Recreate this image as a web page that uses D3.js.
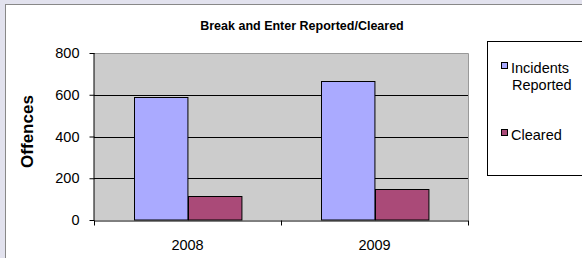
<!DOCTYPE html>
<html>
<head>
<meta charset="utf-8">
<script src="https://cdn.jsdelivr.net/npm/d3@7"></script>
<style>
  html, body { margin: 0; padding: 0; background: #e2e2ee; }
  svg { display: block; font-family: Arial, "Liberation Sans", sans-serif; }
</style>
</head>
<body>
<svg id="chart"></svg>
<script>
var years = ['2008', '2009'],
    seriesNames = ['Incidents Reported', 'Cleared'],
    reported = [590, 666],
    cleared = [115, 148],
    yTicks = [0, 200, 400, 600, 800],
    colors = ['#aaaaff', '#aa4a78'];

var width = 582,
    height = 258;

var svg = d3.select('svg#chart')
    .attr('width', width)
    .attr('height', height);

// chart area (white) with grey border on left/top
svg.append('rect')
    .attr('x', 5.5)
    .attr('y', 4.5)
    .attr('width', width)
    .attr('height', height)
    .attr('fill', 'white')
    .attr('stroke', '#888888');

var x = d3.scaleBand().domain(years).range([94, 468]);
var x1 = d3.scaleBand().domain(seriesNames).range([0, x.bandwidth()]).paddingOuter(0.75);
var y = d3.scaleLinear().domain([0, 800]).range([220, 53]);

// plot background
svg.append('rect')
    .attr('x', x.range()[0])
    .attr('y', y(800))
    .attr('width', x.range()[1] - x.range()[0])
    .attr('height', y(0) - y(800))
    .attr('fill', '#cccccc');

// plot frame top/right in grey
svg.append('path')
    .attr('d', 'M' + x.range()[0] + ',' + (y(800) + 0.5) + 'H' + (x.range()[1] + 0.5) + 'V' + y(0))
    .attr('fill', 'none')
    .attr('stroke', '#999999');

// gridlines
svg.append('g')
    .selectAll('line')
    .data(yTicks.filter(function(d) { return d > 0 && d < 800; }))
    .join('line')
    .attr('x1', x.range()[0])
    .attr('x2', x.range()[1])
    .attr('y1', function(d) { return Math.round(y(d)) + 0.5; })
    .attr('y2', function(d) { return Math.round(y(d)) + 0.5; })
    .attr('stroke', '#000000');

// bars
var rows = years.map(function(yr, i) {
    return { year: yr, values: [reported[i], cleared[i]] };
});

svg.append('g')
    .selectAll('g')
    .data(rows)
    .join('g')
    .attr('transform', function(d) { return 'translate(' + x(d.year) + ',0)'; })
    .selectAll('rect')
    .data(function(d) { return d.values.map(function(v, k) { return { name: seriesNames[k], value: v, k: k }; }); })
    .join('rect')
    .attr('x', function(d) { return Math.round(x1(d.name)) + 0.5; })
    .attr('y', function(d) { return Math.round(y(d.value)) + 0.5; })
    .attr('width', x1.bandwidth())
    .attr('height', function(d) { return y(0) - Math.round(y(d.value)) - 0.5; })
    .attr('fill', function(d) { return colors[d.k]; })
    .attr('stroke', '#000000');

// y axis
var yAxis = svg.append('g')
    .attr('transform', 'translate(' + (x.range()[0] + 0.5) + ',0)')
    .call(d3.axisLeft(y).tickValues(yTicks).tickSize(5).tickPadding(10).tickFormat(d3.format('d')));
yAxis.select('.domain').attr('d', 'M-0.5,' + y(800) + 'V' + (y(0) + 0.5)).attr('stroke', '#000');
yAxis.selectAll('.tick line').attr('stroke', '#000');
yAxis.selectAll('text').attr('font-size', '14.5px').attr('fill', '#000').attr('font-family', 'Arial, "Liberation Sans", sans-serif');

// x axis
var xAxis = svg.append('g')
    .attr('transform', 'translate(0,' + (y(0) + 0.5) + ')')
    .call(d3.axisBottom(x).tickSize(0).tickPadding(19));
xAxis.select('.domain').attr('stroke', '#000');
xAxis.selectAll('text').attr('font-size', '14.5px').attr('fill', '#000').attr('font-family', 'Arial, "Liberation Sans", sans-serif');
xAxis.selectAll('.sep')
    .data(years.map(function(d) { return x(d); }).concat([x.range()[1]]))
    .join('line')
    .attr('class', 'sep')
    .attr('x1', function(d) { return d + 0.5; })
    .attr('x2', function(d) { return d + 0.5; })
    .attr('y1', 0)
    .attr('y2', 5)
    .attr('stroke', '#000');

// title
svg.append('text')
    .attr('x', 302)
    .attr('y', 30)
    .attr('text-anchor', 'middle')
    .attr('font-size', '12.5px')
    .attr('font-weight', 'bold')
    .text('Break and Enter Reported/Cleared');

// y label
svg.append('text')
    .attr('transform', 'translate(33,' + ((y(0) + y(800)) / 2 - 5) + ') rotate(-90)')
    .attr('text-anchor', 'middle')
    .attr('font-size', '17px')
    .attr('font-weight', 'bold')
    .text('Offences');

// legend
var legend = svg.append('g');
legend.append('rect')
    .attr('x', 487.5)
    .attr('y', 41.5)
    .attr('width', 120)
    .attr('height', 134)
    .attr('fill', 'white')
    .attr('stroke', '#000');

var legendRows = [
    { lines: ['Incidents', 'Reported'], y: 73 },
    { lines: ['Cleared'], y: 140 }
];

var items = legend.selectAll('g.item')
    .data(legendRows)
    .join('g')
    .attr('class', 'item');

items.append('rect')
    .attr('x', 501.5)
    .attr('y', function(d) { return d.y - 10.5; })
    .attr('width', 6)
    .attr('height', 6)
    .attr('fill', function(d, i) { return colors[i]; })
    .attr('stroke', '#000');

items.append('text')
    .attr('x', 511)
    .attr('y', function(d) { return d.y; })
    .attr('font-size', '14.5px')
    .selectAll('tspan')
    .data(function(d) { return d.lines; })
    .join('tspan')
    .attr('x', function(d, i) { return i === 0 ? 511 : 512; })
    .attr('dy', function(d, i) { return i === 0 ? 0 : 17; })
    .text(function(d) { return d; });
</script>
</body>
</html>
